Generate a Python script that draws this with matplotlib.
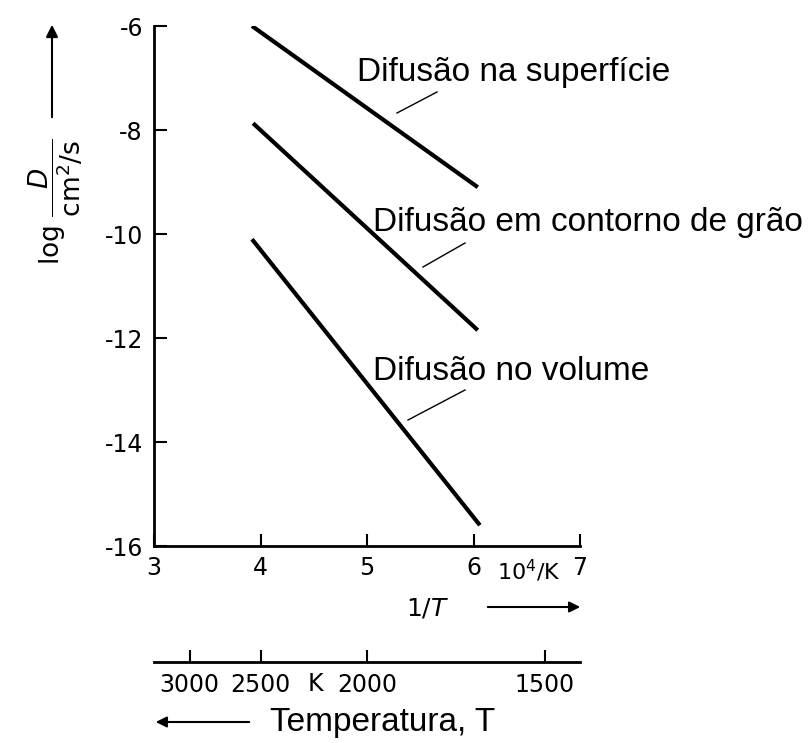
import numpy as np
import matplotlib.pyplot as plt

# data: x = 1e4/T in 1/K, y = log D in cm^2/s
labels = ["Difusão na superfície", "Difusão em contorno de grão", "Difusão no volume"]
x_start = [3.92, 3.93, 3.92]
x_end = [6.04, 6.04, 6.06]
y_start = [-6.0, -7.87, -10.1]
y_end = [-9.1, -11.85, -15.6]

x_ticks = [3, 4, 5, 6, 7]
y_ticks = [-16, -14, -12, -10, -8, -6]
temp_ticks = [3000, 2500, 2000, 1500]

W, H = 810, 743
narrow = ['Liberation Sans Narrow', 'DejaVu Sans']
sans = ['Liberation Sans', 'DejaVu Sans']


def fx(px):
    return px / W


def fy(py):
    return 1 - py / H


fig = plt.figure(figsize=(W / 100, H / 100), dpi=100)
ax = fig.add_axes([fx(154), fy(546), fx(580) - fx(154), fy(26) - fy(546)])

for xs, xe, ys, ye in zip(x_start, x_end, y_start, y_end):
    ax.plot([xs, xe], [ys, ye], color='black', linewidth=3, solid_capstyle='butt')

ax.set_xlim(3, 7)
ax.set_ylim(-16, -6)
ax.set_xticks(x_ticks)
ax.set_yticks(y_ticks)
ax.set_xticklabels([str(t) for t in x_ticks], family=narrow, fontsize=17)
ax.set_yticklabels([str(t) for t in y_ticks], family=narrow, fontsize=17)
ax.tick_params(direction='in', length=9, width=1.5)
ax.tick_params(axis='x', pad=7)
ax.tick_params(axis='y', pad=8)
for s in ['top', 'right']:
    ax.spines[s].set_visible(False)
for s in ['left', 'bottom']:
    ax.spines[s].set_linewidth(2)

ax.text(6.52, -16.22, r'10$^4$/K', family=narrow, fontsize=16, ha='center', va='top')

# curve labels with leader lines
lab_pos = [(357, 72), (373, 223), (373, 372)]
lead = [((397, 113), (437, 92)), ((423, 267), (465, 243)), ((408, 420), (465, 390))]
for lab, (tx, ty), ((a0, b0), (a1, b1)) in zip(labels, lab_pos, lead):
    fig.text(fx(tx), fy(ty), lab, family=sans, fontsize=24, ha='left', va='center')
    fig.add_artist(plt.Line2D([fx(a0), fx(a1)], [fy(b0), fy(b1)],
                              color='black', linewidth=1))

# y label and arrow
fig.text(fx(56), fy(202), r'$\log\,\dfrac{D}{\mathrm{cm^2/s}}$', rotation=90,
         fontsize=19, ha='center', va='center')
ax.annotate('', xy=(fx(52), fy(22)), xytext=(fx(52), fy(120)),
            xycoords='figure fraction', textcoords='figure fraction',
            arrowprops=dict(arrowstyle='-|>', color='black', lw=1.5,
                            mutation_scale=18))

# 1/T label and arrow
fig.text(fx(428), fy(609), r'$1/T$', fontsize=18, ha='center', va='center')
ax.annotate('', xy=(fx(583), fy(607)), xytext=(fx(485), fy(607)),
            xycoords='figure fraction', textcoords='figure fraction',
            arrowprops=dict(arrowstyle='-|>', color='black', lw=1.5,
                            mutation_scale=16))

# temperature axis
sec = ax.secondary_xaxis((546 - 662) / 520, functions=(lambda x: 1e4 / x, lambda t: 1e4 / t))
sec.set_xticks(temp_ticks)
sec.set_xticklabels([str(t) for t in temp_ticks], family=narrow, fontsize=17)
sec.tick_params(direction='in', length=9, width=1.5, pad=8)
sec.spines['bottom'].set_linewidth(2)
fig.text(fx(315), fy(684), 'K', family=narrow, fontsize=17, ha='center', va='center')

fig.text(fx(270), fy(722), 'Temperatura, T', family=sans, fontsize=24, ha='left', va='center')
ax.annotate('', xy=(fx(153), fy(722)), xytext=(fx(252), fy(722)),
            xycoords='figure fraction', textcoords='figure fraction',
            arrowprops=dict(arrowstyle='-|>', color='black', lw=1.5,
                            mutation_scale=16))

fig.savefig('out.png', dpi=100, facecolor='white')
